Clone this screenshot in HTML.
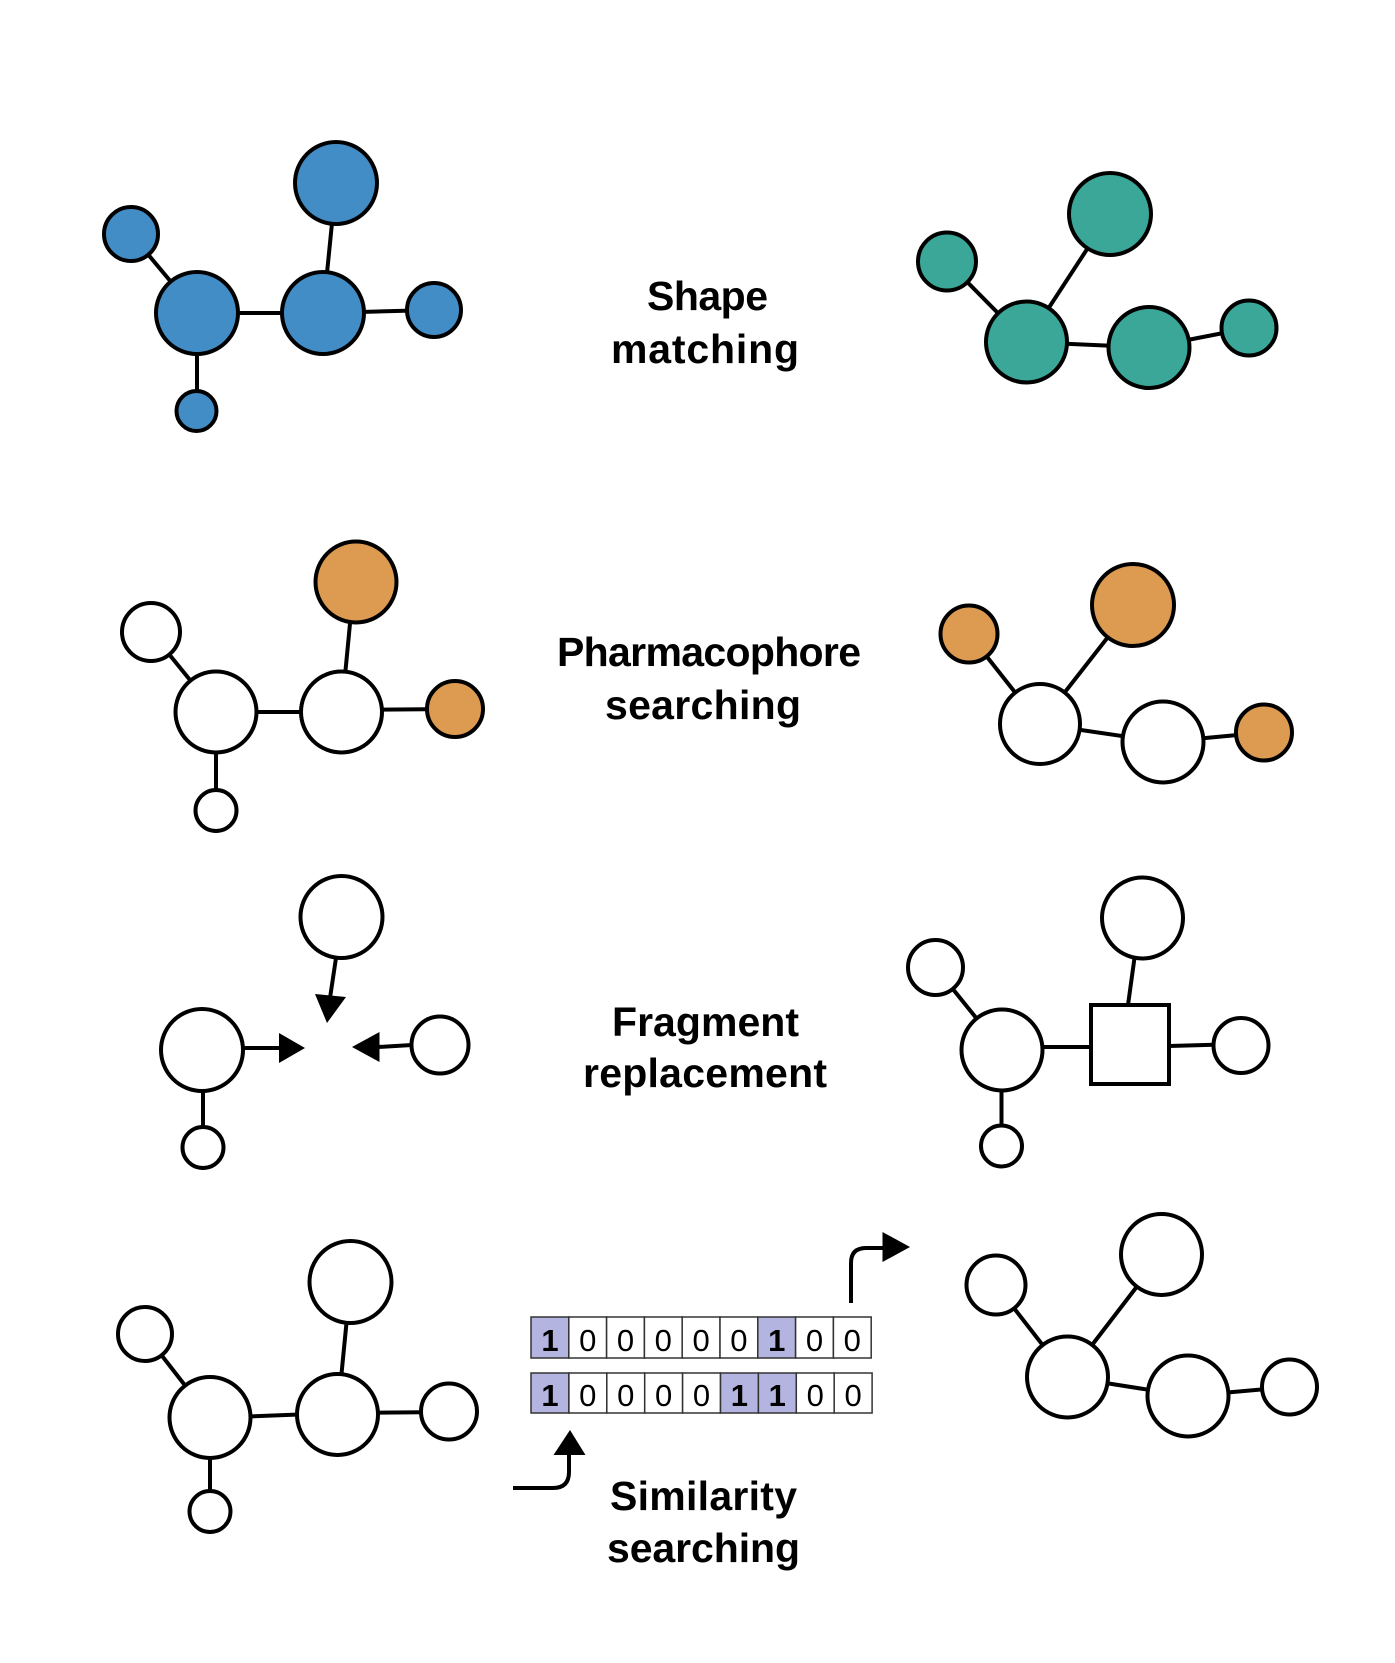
<!DOCTYPE html>
<html>
<head>
<meta charset="utf-8">
<style>
  html, body { margin: 0; padding: 0; background: #ffffff; }
  body { width: 1395px; height: 1663px; overflow: hidden; }
  svg { display: block; }
  .lbl { font-family: "Liberation Sans", Arial, sans-serif; font-weight: bold; font-size: 41px; fill: #000; }
  .dg { font-family: "Liberation Sans", Arial, sans-serif; font-size: 31px; fill: #000; }
  .dgb { font-family: "Liberation Sans", Arial, sans-serif; font-size: 31px; font-weight: bold; fill: #000; }
</style>
</head>
<body>
<svg width="1395" height="1663" viewBox="0 0 1395 1663" xmlns="http://www.w3.org/2000/svg">
  <rect width="1395" height="1663" fill="#ffffff"/>
  <g stroke="#000" stroke-width="4" stroke-linecap="round" fill="none">
    <!-- Row 1 left (blue) lines -->
    <line x1="131" y1="234" x2="197" y2="313"/>
    <line x1="197" y1="313" x2="323" y2="313"/>
    <line x1="323" y1="313" x2="336" y2="183"/>
    <line x1="323" y1="313" x2="434" y2="310"/>
    <line x1="197" y1="313" x2="197" y2="411"/>
    <!-- Row 1 right (teal) lines -->
    <line x1="947" y1="261.5" x2="1026.5" y2="342"/>
    <line x1="1026.5" y1="342" x2="1110" y2="214"/>
    <line x1="1026.5" y1="342" x2="1149" y2="347.5"/>
    <line x1="1149" y1="347.5" x2="1249" y2="328"/>
    <!-- Row 2 left lines -->
    <line x1="151" y1="632" x2="216" y2="712"/>
    <line x1="216" y1="712" x2="341.5" y2="712"/>
    <line x1="341.5" y1="712" x2="354" y2="582"/>
    <line x1="341.5" y1="710" x2="455" y2="709"/>
    <line x1="216" y1="712" x2="216" y2="810.5"/>
    <!-- Row 2 right lines -->
    <line x1="969" y1="634" x2="1040" y2="724"/>
    <line x1="1040" y1="724" x2="1133" y2="605"/>
    <line x1="1040" y1="724" x2="1163" y2="742"/>
    <line x1="1163" y1="742" x2="1264" y2="732.5"/>
    <!-- Row 3 left lines/arrows -->
    <line x1="336" y1="958" x2="330" y2="998" stroke-linecap="butt"/>
    <line x1="243" y1="1048" x2="281" y2="1048" stroke-linecap="butt"/>
    <line x1="378" y1="1047" x2="412" y2="1045" stroke-linecap="butt"/>
    <line x1="203" y1="1090" x2="203" y2="1147.5"/>
    <!-- Row 3 right lines -->
    <line x1="935.5" y1="967.5" x2="1002" y2="1050"/>
    <line x1="1002" y1="1047" x2="1091" y2="1047"/>
    <line x1="1128" y1="1005" x2="1140" y2="918"/>
    <line x1="1169" y1="1046" x2="1241" y2="1044"/>
    <line x1="1001.5" y1="1050" x2="1001.5" y2="1146"/>
    <!-- Row 4 left lines -->
    <line x1="145" y1="1334" x2="210" y2="1417.5"/>
    <line x1="210" y1="1418" x2="337.5" y2="1413"/>
    <line x1="337.5" y1="1414.5" x2="350.5" y2="1282"/>
    <line x1="337.5" y1="1413" x2="449" y2="1412"/>
    <line x1="210" y1="1417.5" x2="210" y2="1511.5"/>
    <!-- Row 4 right lines -->
    <line x1="996" y1="1285" x2="1067.5" y2="1377"/>
    <line x1="1067.5" y1="1377" x2="1161.5" y2="1254.5"/>
    <line x1="1067.5" y1="1377" x2="1188" y2="1396"/>
    <line x1="1188" y1="1396" x2="1289.5" y2="1387"/>
    <!-- bitstring arrows -->
    <path d="M513,1488 H553 Q569,1488 569,1472 V1452" stroke-linecap="butt"/>
    <path d="M851,1303 V1263 Q851,1248 866,1248 H885" stroke-linecap="butt"/>
  </g>

  <!-- arrowheads -->
  <g fill="#000">
    <polygon points="315,994 346,997 327,1023"/>
    <polygon points="279,1033 279,1063 305,1048"/>
    <polygon points="379.5,1032 379.5,1062 352,1047"/>
    <polygon points="553.5,1455 585.5,1455 570,1430"/>
    <polygon points="882.5,1232 882.5,1262 910,1247"/>
  </g>

  <g stroke="#000" stroke-width="4">
    <!-- Row 1 left blue -->
    <g fill="#428dc6">
      <circle cx="336" cy="183" r="41"/>
      <circle cx="131" cy="234" r="27"/>
      <circle cx="197" cy="313" r="41"/>
      <circle cx="323" cy="313" r="41"/>
      <circle cx="434" cy="310" r="27"/>
      <circle cx="196.5" cy="411" r="20"/>
    </g>
    <!-- Row 1 right teal -->
    <g fill="#3ba798">
      <circle cx="1110" cy="214" r="41"/>
      <circle cx="947" cy="261.5" r="29"/>
      <circle cx="1026.5" cy="342" r="40.5"/>
      <circle cx="1149" cy="347.5" r="40.5"/>
      <circle cx="1249" cy="328" r="27.5"/>
    </g>
    <!-- Row 2 left -->
    <circle cx="356" cy="582" r="40.5" fill="#dc9b51"/>
    <circle cx="151" cy="632" r="29" fill="#fff"/>
    <circle cx="216" cy="712" r="40.5" fill="#fff"/>
    <circle cx="341.5" cy="712" r="40.5" fill="#fff"/>
    <circle cx="455" cy="709" r="28" fill="#dc9b51"/>
    <circle cx="216" cy="810.5" r="20.5" fill="#fff"/>
    <!-- Row 2 right -->
    <circle cx="969" cy="634" r="28.5" fill="#dc9b51"/>
    <circle cx="1133" cy="605" r="41" fill="#dc9b51"/>
    <circle cx="1040" cy="724" r="40" fill="#fff"/>
    <circle cx="1163" cy="742" r="40.5" fill="#fff"/>
    <circle cx="1264" cy="732.5" r="28" fill="#dc9b51"/>
    <!-- Row 3 left -->
    <g fill="#fff">
      <circle cx="341.5" cy="917" r="41"/>
      <circle cx="202" cy="1050" r="41"/>
      <circle cx="440" cy="1045" r="28.5"/>
      <circle cx="203" cy="1147.5" r="20.5"/>
    </g>
    <!-- Row 3 right -->
    <g fill="#fff">
      <circle cx="1142.5" cy="918" r="40.5"/>
      <circle cx="935.5" cy="967.5" r="27.5"/>
      <circle cx="1002" cy="1050" r="40.5"/>
      <rect x="1091" y="1005" width="78" height="79"/>
      <circle cx="1241" cy="1045.5" r="27.5"/>
      <circle cx="1001.5" cy="1146" r="20.5"/>
    </g>
    <!-- Row 4 left -->
    <g fill="#fff">
      <circle cx="350.5" cy="1282" r="41"/>
      <circle cx="145" cy="1334" r="27"/>
      <circle cx="210" cy="1417.5" r="40.5"/>
      <circle cx="337.5" cy="1414.5" r="40.5"/>
      <circle cx="449" cy="1411.5" r="28"/>
      <circle cx="210" cy="1511.5" r="20.5"/>
    </g>
    <!-- Row 4 right -->
    <g fill="#fff">
      <circle cx="996" cy="1285" r="29.5"/>
      <circle cx="1161.5" cy="1254.5" r="40.5"/>
      <circle cx="1067.5" cy="1377" r="40.5"/>
      <circle cx="1188" cy="1396" r="40.5"/>
      <circle cx="1289.5" cy="1387" r="27.5"/>
    </g>
  </g>

  <!-- Bitstrings -->
  <g stroke="#333" stroke-width="1.5">
    <!-- row 1 -->
    <rect x="531" y="1317" width="37.8" height="41" fill="#b3b5e0"/>
    <rect x="568.8" y="1317" width="37.8" height="41" fill="#fff"/>
    <rect x="606.6" y="1317" width="37.8" height="41" fill="#fff"/>
    <rect x="644.4" y="1317" width="37.8" height="41" fill="#fff"/>
    <rect x="682.2" y="1317" width="37.8" height="41" fill="#fff"/>
    <rect x="720" y="1317" width="37.8" height="41" fill="#fff"/>
    <rect x="757.8" y="1317" width="37.8" height="41" fill="#b3b5e0"/>
    <rect x="795.6" y="1317" width="37.8" height="41" fill="#fff"/>
    <rect x="833.4" y="1317" width="37.8" height="41" fill="#fff"/>
    <!-- row 2 -->
    <rect x="531" y="1373" width="37.9" height="40" fill="#b3b5e0"/>
    <rect x="568.9" y="1373" width="37.9" height="40" fill="#fff"/>
    <rect x="606.8" y="1373" width="37.9" height="40" fill="#fff"/>
    <rect x="644.7" y="1373" width="37.9" height="40" fill="#fff"/>
    <rect x="682.6" y="1373" width="37.9" height="40" fill="#fff"/>
    <rect x="720.5" y="1373" width="37.9" height="40" fill="#b3b5e0"/>
    <rect x="758.4" y="1373" width="37.9" height="40" fill="#b3b5e0"/>
    <rect x="796.3" y="1373" width="37.9" height="40" fill="#fff"/>
    <rect x="834.2" y="1373" width="37.9" height="40" fill="#fff"/>
  </g>
  <g text-anchor="middle">
    <text class="dgb" x="550" y="1351">1</text>
    <text class="dg" x="587.7" y="1351">0</text>
    <text class="dg" x="625.5" y="1351">0</text>
    <text class="dg" x="663.3" y="1351">0</text>
    <text class="dg" x="701.1" y="1351">0</text>
    <text class="dg" x="738.9" y="1351">0</text>
    <text class="dgb" x="776.7" y="1351">1</text>
    <text class="dg" x="814.5" y="1351">0</text>
    <text class="dg" x="852.3" y="1351">0</text>

    <text class="dgb" x="550" y="1406">1</text>
    <text class="dg" x="587.8" y="1406">0</text>
    <text class="dg" x="625.7" y="1406">0</text>
    <text class="dg" x="663.6" y="1406">0</text>
    <text class="dg" x="701.5" y="1406">0</text>
    <text class="dgb" x="739.4" y="1406">1</text>
    <text class="dgb" x="777.3" y="1406">1</text>
    <text class="dg" x="815.2" y="1406">0</text>
    <text class="dg" x="853.1" y="1406">0</text>
  </g>

  <!-- Labels -->
  <g text-anchor="middle" class="lbl">
    <text class="lbl" x="707.5" y="310" textLength="121" lengthAdjust="spacing">Shape</text>
    <text class="lbl" x="705" y="363" textLength="188" lengthAdjust="spacing">matching</text>
    <text class="lbl" x="709" y="666" textLength="304" lengthAdjust="spacing">Pharmacophore</text>
    <text class="lbl" x="703" y="719" textLength="196" lengthAdjust="spacing">searching</text>
    <text class="lbl" x="705.5" y="1036" textLength="187" lengthAdjust="spacing">Fragment</text>
    <text class="lbl" x="705" y="1087" textLength="244" lengthAdjust="spacing">replacement</text>
    <text class="lbl" x="703.5" y="1510" textLength="187" lengthAdjust="spacing">Similarity</text>
    <text class="lbl" x="703.5" y="1562" textLength="193" lengthAdjust="spacing">searching</text>
  </g>
</svg>
</body>
</html>
